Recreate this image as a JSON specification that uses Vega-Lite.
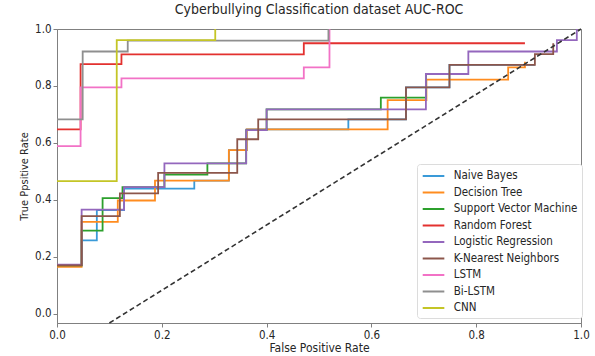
{
  "$schema": "https://vega.github.io/schema/vega-lite/v6.json",
  "width": 524,
  "height": 294,
  "autosize": {"type": "none"},
  "padding": {"left": 57, "top": 29, "right": 14, "bottom": 33},
  "background": "white",
  "config": {
    "font": "DejaVu Sans Condensed, DejaVu Sans",
    "view": {"stroke": "#808080", "strokeWidth": 1}
  },
  "title": {"text": "Cyberbullying Classification dataset AUC-ROC", "fontSize": 14, "fontWeight": "normal", "color": "#262626", "anchor": "middle", "offset": 6},
  "datasets": {
    "roc": [
      {"m":"Naive Bayes","i":0,"x":0,"y":0.17},{"m":"Naive Bayes","i":1,"x":0.047,"y":0.17},{"m":"Naive Bayes","i":2,"x":0.047,"y":0.258},{"m":"Naive Bayes","i":3,"x":0.076,"y":0.258},{"m":"Naive Bayes","i":4,"x":0.076,"y":0.364},{"m":"Naive Bayes","i":5,"x":0.128,"y":0.364},{"m":"Naive Bayes","i":6,"x":0.128,"y":0.44},{"m":"Naive Bayes","i":7,"x":0.262,"y":0.44},{"m":"Naive Bayes","i":8,"x":0.262,"y":0.468},{"m":"Naive Bayes","i":9,"x":0.328,"y":0.468},{"m":"Naive Bayes","i":10,"x":0.328,"y":0.575},{"m":"Naive Bayes","i":11,"x":0.362,"y":0.575},{"m":"Naive Bayes","i":12,"x":0.362,"y":0.648},{"m":"Naive Bayes","i":13,"x":0.556,"y":0.648},{"m":"Naive Bayes","i":14,"x":0.556,"y":0.683},{"m":"Naive Bayes","i":15,"x":0.666,"y":0.683},{"m":"Naive Bayes","i":16,"x":0.666,"y":0.795},{"m":"Naive Bayes","i":17,"x":0.749,"y":0.795},{"m":"Naive Bayes","i":18,"x":0.749,"y":0.874},{"m":"Naive Bayes","i":19,"x":0.912,"y":0.874},

      {"m":"Decision Tree","i":0,"x":0,"y":0.165},{"m":"Decision Tree","i":1,"x":0.047,"y":0.165},{"m":"Decision Tree","i":2,"x":0.047,"y":0.323},{"m":"Decision Tree","i":3,"x":0.116,"y":0.323},{"m":"Decision Tree","i":4,"x":0.116,"y":0.398},{"m":"Decision Tree","i":5,"x":0.187,"y":0.398},{"m":"Decision Tree","i":6,"x":0.187,"y":0.468},{"m":"Decision Tree","i":7,"x":0.328,"y":0.468},{"m":"Decision Tree","i":8,"x":0.328,"y":0.575},{"m":"Decision Tree","i":9,"x":0.362,"y":0.575},{"m":"Decision Tree","i":10,"x":0.362,"y":0.648},{"m":"Decision Tree","i":11,"x":0.631,"y":0.648},{"m":"Decision Tree","i":12,"x":0.631,"y":0.75},{"m":"Decision Tree","i":13,"x":0.705,"y":0.75},{"m":"Decision Tree","i":14,"x":0.705,"y":0.822},{"m":"Decision Tree","i":15,"x":0.861,"y":0.822},{"m":"Decision Tree","i":16,"x":0.861,"y":0.865},{"m":"Decision Tree","i":17,"x":0.893,"y":0.865},{"m":"Decision Tree","i":18,"x":0.893,"y":0.885},

      {"m":"Support Vector Machine","i":0,"x":0,"y":0.17},{"m":"Support Vector Machine","i":1,"x":0.047,"y":0.17},{"m":"Support Vector Machine","i":2,"x":0.047,"y":0.292},{"m":"Support Vector Machine","i":3,"x":0.087,"y":0.292},{"m":"Support Vector Machine","i":4,"x":0.087,"y":0.406},{"m":"Support Vector Machine","i":5,"x":0.125,"y":0.406},{"m":"Support Vector Machine","i":6,"x":0.125,"y":0.445},{"m":"Support Vector Machine","i":7,"x":0.205,"y":0.445},{"m":"Support Vector Machine","i":8,"x":0.205,"y":0.489},{"m":"Support Vector Machine","i":9,"x":0.287,"y":0.489},{"m":"Support Vector Machine","i":10,"x":0.287,"y":0.528},{"m":"Support Vector Machine","i":11,"x":0.361,"y":0.528},{"m":"Support Vector Machine","i":12,"x":0.361,"y":0.645},{"m":"Support Vector Machine","i":13,"x":0.4,"y":0.645},{"m":"Support Vector Machine","i":14,"x":0.4,"y":0.718},{"m":"Support Vector Machine","i":15,"x":0.618,"y":0.718},{"m":"Support Vector Machine","i":16,"x":0.618,"y":0.759},{"m":"Support Vector Machine","i":17,"x":0.704,"y":0.759},{"m":"Support Vector Machine","i":18,"x":0.704,"y":0.842},{"m":"Support Vector Machine","i":19,"x":0.785,"y":0.842},

      {"m":"Random Forest","i":0,"x":0,"y":0.648},{"m":"Random Forest","i":1,"x":0.045,"y":0.648},{"m":"Random Forest","i":2,"x":0.045,"y":0.877},{"m":"Random Forest","i":3,"x":0.123,"y":0.877},{"m":"Random Forest","i":4,"x":0.123,"y":0.911},{"m":"Random Forest","i":5,"x":0.471,"y":0.911},{"m":"Random Forest","i":6,"x":0.471,"y":0.95},{"m":"Random Forest","i":7,"x":0.893,"y":0.95},

      {"m":"Logistic Regression","i":0,"x":0,"y":0.173},{"m":"Logistic Regression","i":1,"x":0.047,"y":0.173},{"m":"Logistic Regression","i":2,"x":0.047,"y":0.366},{"m":"Logistic Regression","i":3,"x":0.128,"y":0.366},{"m":"Logistic Regression","i":4,"x":0.128,"y":0.445},{"m":"Logistic Regression","i":5,"x":0.205,"y":0.445},{"m":"Logistic Regression","i":6,"x":0.205,"y":0.528},{"m":"Logistic Regression","i":7,"x":0.361,"y":0.528},{"m":"Logistic Regression","i":8,"x":0.361,"y":0.645},{"m":"Logistic Regression","i":9,"x":0.4,"y":0.645},{"m":"Logistic Regression","i":10,"x":0.4,"y":0.718},{"m":"Logistic Regression","i":11,"x":0.704,"y":0.718},{"m":"Logistic Regression","i":12,"x":0.704,"y":0.842},{"m":"Logistic Regression","i":13,"x":0.785,"y":0.842},{"m":"Logistic Regression","i":14,"x":0.785,"y":0.921},{"m":"Logistic Regression","i":15,"x":0.954,"y":0.921},{"m":"Logistic Regression","i":16,"x":0.954,"y":0.961},{"m":"Logistic Regression","i":17,"x":0.992,"y":0.961},{"m":"Logistic Regression","i":18,"x":0.992,"y":1.0},

      {"m":"K-Nearest Neighbors","i":0,"x":0,"y":0.17},{"m":"K-Nearest Neighbors","i":1,"x":0.047,"y":0.17},{"m":"K-Nearest Neighbors","i":2,"x":0.047,"y":0.343},{"m":"K-Nearest Neighbors","i":3,"x":0.12,"y":0.343},{"m":"K-Nearest Neighbors","i":4,"x":0.12,"y":0.423},{"m":"K-Nearest Neighbors","i":5,"x":0.193,"y":0.423},{"m":"K-Nearest Neighbors","i":6,"x":0.193,"y":0.495},{"m":"K-Nearest Neighbors","i":7,"x":0.344,"y":0.495},{"m":"K-Nearest Neighbors","i":8,"x":0.344,"y":0.613},{"m":"K-Nearest Neighbors","i":9,"x":0.384,"y":0.613},{"m":"K-Nearest Neighbors","i":10,"x":0.384,"y":0.683},{"m":"K-Nearest Neighbors","i":11,"x":0.666,"y":0.683},{"m":"K-Nearest Neighbors","i":12,"x":0.666,"y":0.795},{"m":"K-Nearest Neighbors","i":13,"x":0.749,"y":0.795},{"m":"K-Nearest Neighbors","i":14,"x":0.749,"y":0.874},{"m":"K-Nearest Neighbors","i":15,"x":0.912,"y":0.874},{"m":"K-Nearest Neighbors","i":16,"x":0.912,"y":0.912},{"m":"K-Nearest Neighbors","i":17,"x":0.947,"y":0.912},{"m":"K-Nearest Neighbors","i":18,"x":0.947,"y":0.95},

      {"m":"LSTM","i":0,"x":0,"y":0.589},{"m":"LSTM","i":1,"x":0.045,"y":0.589},{"m":"LSTM","i":2,"x":0.045,"y":0.795},{"m":"LSTM","i":3,"x":0.123,"y":0.795},{"m":"LSTM","i":4,"x":0.123,"y":0.827},{"m":"LSTM","i":5,"x":0.471,"y":0.827},{"m":"LSTM","i":6,"x":0.471,"y":0.865},{"m":"LSTM","i":7,"x":0.52,"y":0.865},{"m":"LSTM","i":8,"x":0.52,"y":1.0},

      {"m":"Bi-LSTM","i":0,"x":0,"y":0.683},{"m":"Bi-LSTM","i":1,"x":0.049,"y":0.683},{"m":"Bi-LSTM","i":2,"x":0.049,"y":0.921},{"m":"Bi-LSTM","i":3,"x":0.135,"y":0.921},{"m":"Bi-LSTM","i":4,"x":0.135,"y":0.959},{"m":"Bi-LSTM","i":5,"x":0.518,"y":0.959},{"m":"Bi-LSTM","i":6,"x":0.518,"y":1.0},

      {"m":"CNN","i":0,"x":0,"y":0.466},{"m":"CNN","i":1,"x":0.114,"y":0.466},{"m":"CNN","i":2,"x":0.114,"y":0.961},{"m":"CNN","i":3,"x":0.302,"y":0.961},{"m":"CNN","i":4,"x":0.302,"y":1.0}
    ],
    "chance": [{"x":0.1,"y":-0.032},{"x":1,"y":1}]
  },
  "data": {"name": "roc"},
  "encoding": {
    "x": {"field": "x", "type": "quantitative", "scale": {"domain": [0, 1], "nice": false, "zero": false},
      "axis": {"values": [0, 0.2, 0.4, 0.6, 0.8, 1.0], "format": ".1f", "title": "False Positive Rate", "grid": false,
        "tickSize": 4, "labelPadding": 2, "domainColor": "#808080", "tickColor": "#808080", "labelColor": "#262626",
        "labelFontSize": 11.5, "titleFontSize": 12, "titleFontWeight": "normal", "titleColor": "#262626", "titlePadding": 2, "labelFlush": false}},
    "y": {"field": "y", "type": "quantitative", "scale": {"domain": [-0.032, 1.0], "nice": false, "zero": false},
      "axis": {"values": [0, 0.2, 0.4, 0.6, 0.8, 1.0], "format": ".1f", "title": "True Ppsitive Rate", "grid": false,
        "tickSize": 4, "labelPadding": 2, "domainColor": "#808080", "tickColor": "#808080", "labelColor": "#262626",
        "labelFontSize": 11.5, "titleFontSize": 11, "titleFontWeight": "normal", "titleColor": "#262626", "titlePadding": 5, "labelFlush": false}},
    "color": {"field": "m", "type": "nominal",
      "scale": {"domain": ["Naive Bayes", "Decision Tree", "Support Vector Machine", "Random Forest", "Logistic Regression", "K-Nearest Neighbors", "LSTM", "Bi-LSTM", "CNN"],
                "range": ["#3a9ad8", "#ff8c1f", "#2ca02c", "#e3312f", "#9467bd", "#8c564b", "#f272c6", "#8f8f8f", "#c4c526"]},
      "legend": {"title": null, "orient": "none", "legendX": 360, "legendY": 135, "padding": 4,
        "symbolType": "M-0.9,0H2.19", "symbolSize": 196, "symbolStrokeWidth": 2, "labelOffset": 16.7, "rowPadding": 2.5,
        "labelFontSize": 11.5, "labelColor": "#262626", "strokeColor": "#dcdcdc", "fillColor": "white", "cornerRadius": 3}},
    "order": {"field": "i", "type": "quantitative"}
  },
  "layer": [
    {"transform": [{"filter": "datum.m === 'Naive Bayes'"}], "mark": {"type": "line", "strokeWidth": 1.8}},
    {"transform": [{"filter": "datum.m === 'Decision Tree'"}], "mark": {"type": "line", "strokeWidth": 1.8}},
    {"transform": [{"filter": "datum.m === 'Support Vector Machine'"}], "mark": {"type": "line", "strokeWidth": 1.8}},
    {"transform": [{"filter": "datum.m === 'Random Forest'"}], "mark": {"type": "line", "strokeWidth": 1.8}},
    {"transform": [{"filter": "datum.m === 'Logistic Regression'"}], "mark": {"type": "line", "strokeWidth": 1.8}},
    {"transform": [{"filter": "datum.m === 'K-Nearest Neighbors'"}], "mark": {"type": "line", "strokeWidth": 1.8}},
    {"transform": [{"filter": "datum.m === 'LSTM'"}], "mark": {"type": "line", "strokeWidth": 1.8}},
    {"transform": [{"filter": "datum.m === 'Bi-LSTM'"}], "mark": {"type": "line", "strokeWidth": 1.8}},
    {"transform": [{"filter": "datum.m === 'CNN'"}], "mark": {"type": "line", "strokeWidth": 1.8}},
    {
      "data": {"name": "chance"},
      "mark": {"type": "line", "color": "#333333", "strokeDash": [5, 3], "strokeWidth": 1.6},
      "encoding": {
        "x": {"field": "x", "type": "quantitative"},
        "y": {"field": "y", "type": "quantitative"},
        "color": {"value": "#333333"},
        "order": {"value": 0}
      }
    }
  ]
}
